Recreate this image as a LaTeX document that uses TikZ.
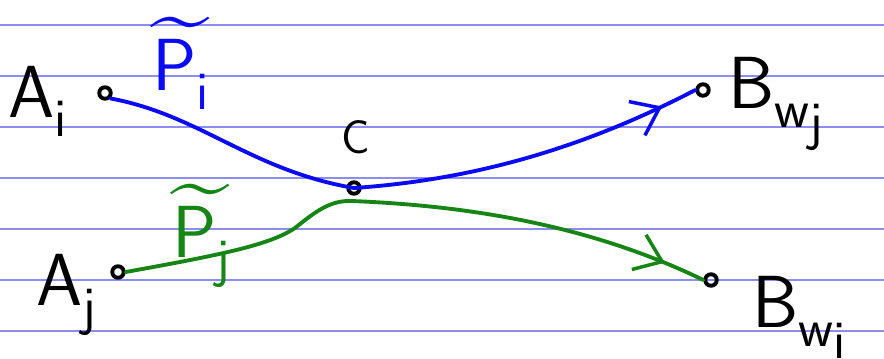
\documentclass[tikz,border=0pt]{standalone}
\usepackage{tikz}
\usetikzlibrary{arrows.meta,decorations.markings}
\definecolor{tinte}{HTML}{0A0AF5}
\definecolor{gruen}{HTML}{168516}
\definecolor{linie}{HTML}{8C8CF2}
\newcommand{\tief}[1]{\raisebox{-0.27em}{\fontsize{31}{32}\selectfont #1}}
\newcommand{\tiefer}[1]{\raisebox{-0.22em}{#1}}
\newcommand{\welle}{\makebox[0pt][l]{\hspace{-0.02em}\raisebox{0.6em}[0pt][0pt]{\scalebox{1.45}[1.25]{\textasciitilde}}}}
\tikzset{
  papier/.style={linie,line width=1.2pt},
  punkt/.style={circle,draw=black,line width=2.2pt,inner sep=0pt,minimum size=2.3mm},
  pfad/.style={line width=2.2pt,line cap=round},
  schrift/.style={font=\fontsize{42}{44}\selectfont\sffamily,inner sep=0pt,anchor=base west},
  pfeil/.style={postaction={decorate},decoration={markings,
    mark=at position #1 with {\arrow{Straight Barb[length=5mm,width=7.5mm,line width=2pt]}}}},
}

\begin{document}
\begin{tikzpicture}[x=0.2mm,y=-0.2mm]
  \useasboundingbox (0,0) rectangle (884,358);
  \foreach \zeile in {25,76,127,178,229,280,331}
    \draw[papier] (0,\zeile)--(884,\zeile);
  % Punkte
  \node[punkt] (ai) at (105,93) {};
  \node[punkt] (bwj) at (703,90) {};
  \node[punkt] (c) at (354,188) {};
  \node[punkt] (aj) at (118,272) {};
  \node[punkt] (bwi) at (711,280) {};
  % Wege
  \draw[pfad,tinte,pfeil=0.94] (ai.south east) .. controls (200,115) and (250,170) .. (c.center)
    .. controls (470,180) and (580,150) .. (bwj.west);
  \draw[pfad,gruen,pfeil=0.93] (aj.east) .. controls (220,255) and (270,245) .. (295,228)
    .. controls (315,212) and (330,200) .. (352,201)
    .. controls (450,205) and (580,220) .. (bwi.west);
  % Beschriftung
  \node[schrift] (lai) at (8,117) {A\tief{i}};
  \node[schrift,tinte] (lpi) at (152,90) {\welle P\tief{i}};
  \node[schrift] (lbwj) at (728,108) {B\tief{w\tiefer{j}}};
  \node[schrift,font=\fontsize{27}{28}\selectfont\sffamily] (lc) at (341,153) {C};
  \node[schrift,gruen] (lpj) at (172,257) {\welle P\tief{j}};
  \node[schrift] (laj) at (36,305) {A\tief{j}};
  \node[schrift] (lbwi) at (752,327) {B\tief{w\tiefer{i}}};
\end{tikzpicture}
\end{document}
